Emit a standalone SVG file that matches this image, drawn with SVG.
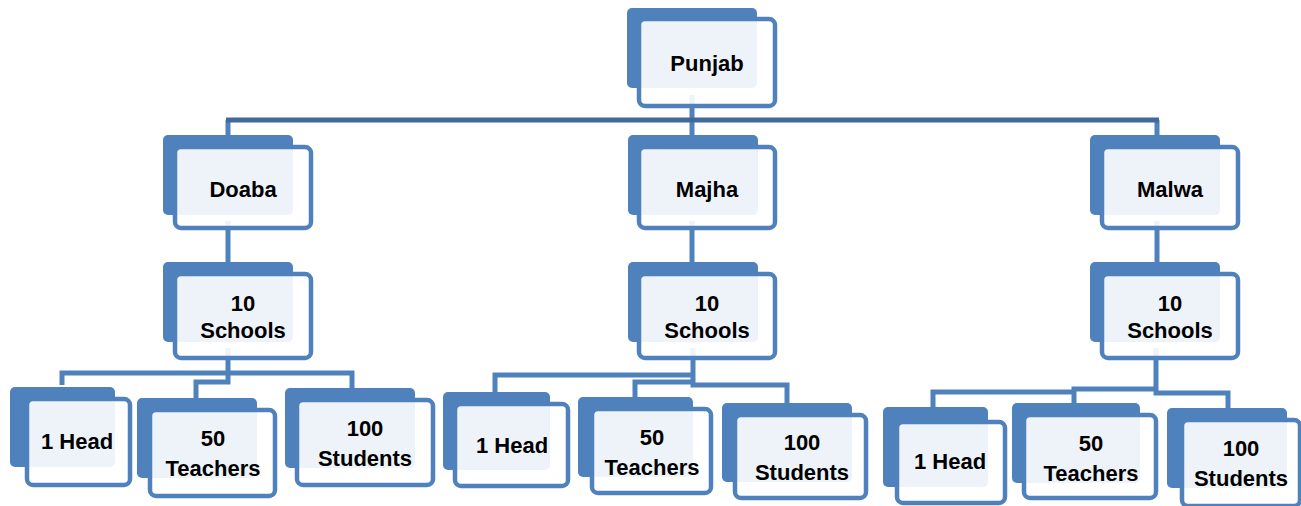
<svg xmlns="http://www.w3.org/2000/svg" width="1301" height="506" viewBox="0 0 1301 506">
<style>
.bk{fill:#4f81bd}
.fr{fill:#ffffff;fill-opacity:0.9;stroke:#4f81bd;stroke-width:4.5}
.t{font-family:"Liberation Sans",Arial,sans-serif;font-weight:bold;font-size:22px;fill:#000;text-anchor:middle}
.c{fill:none;stroke:#4f81bd;stroke-width:5}
.cd{fill:none;stroke:#41699c;stroke-width:5}
</style>
<rect width="1301" height="506" fill="#fff"/>
<g id="connectors">
<path class="c" d="M692 95V128M228 120V147M692 120V147M1157 120V147"/>
<path class="cd" d="M226 120H1159"/>
<path class="c" d="M228 221V274M692 221V274M1157 221V274"/>
<path class="c" d="M228 348V382H196V398M62 385V373H352V388"/>
<path class="c" d="M693 348V385H787V403M495 392V375H693M693 382H635V397"/>
<path class="c" d="M1156 348V393H1228V408M1156 389H1074V403M1074 392H933V407"/>
</g>
<g id="punjab"><rect class="bk" x="627" y="8" width="130" height="80" rx="5"/><rect class="fr" x="639" y="19" width="136" height="87" rx="6"/><text class="t" x="707" y="71">Punjab</text></g>
<g id="doaba"><rect class="bk" x="163" y="135" width="130" height="80" rx="5"/><rect class="fr" x="175" y="147" width="136" height="81" rx="6"/><text class="t" x="243" y="197">Doaba</text></g>
<g id="majha"><rect class="bk" x="628" y="135" width="130" height="80" rx="5"/><rect class="fr" x="639" y="147" width="136" height="81" rx="6"/><text class="t" x="707" y="197">Majha</text></g>
<g id="malwa"><rect class="bk" x="1090" y="135" width="130" height="80" rx="5"/><rect class="fr" x="1102" y="147" width="136" height="81" rx="6"/><text class="t" x="1170" y="197">Malwa</text></g>
<g id="doaba-schools"><rect class="bk" x="163" y="262" width="130" height="80" rx="5"/><rect class="fr" x="175" y="274" width="136" height="84" rx="6"/><text class="t" x="243" y="311">10</text><text class="t" x="243" y="338">Schools</text></g>
<g id="majha-schools"><rect class="bk" x="628" y="262" width="130" height="80" rx="5"/><rect class="fr" x="639" y="274" width="136" height="84" rx="6"/><text class="t" x="707" y="311">10</text><text class="t" x="707" y="338">Schools</text></g>
<g id="malwa-schools"><rect class="bk" x="1090" y="262" width="130" height="80" rx="5"/><rect class="fr" x="1102" y="274" width="136" height="84" rx="6"/><text class="t" x="1170" y="311">10</text><text class="t" x="1170" y="338">Schools</text></g>
<g id="doaba-head"><rect class="bk" x="10" y="387" width="105" height="80" rx="5"/><rect class="fr" x="27" y="399" width="103" height="86" rx="6"/><text class="t" x="77" y="449">1 Head</text></g>
<g id="doaba-teachers"><rect class="bk" x="137" y="398" width="120" height="80" rx="5"/><rect class="fr" x="150" y="410" width="125" height="86" rx="6"/><text class="t" x="213" y="446">50</text><text class="t" x="213" y="476">Teachers</text></g>
<g id="doaba-students"><rect class="bk" x="285" y="388" width="130" height="80" rx="5"/><rect class="fr" x="297" y="400" width="136" height="85" rx="6"/><text class="t" x="365" y="436">100</text><text class="t" x="365" y="466">Students</text></g>
<g id="majha-head"><rect class="bk" x="443" y="392" width="107" height="78" rx="5"/><rect class="fr" x="455" y="404" width="113" height="82" rx="6"/><text class="t" x="512" y="453">1 Head</text></g>
<g id="majha-teachers"><rect class="bk" x="578" y="397" width="115" height="80" rx="5"/><rect class="fr" x="592" y="409" width="119" height="84" rx="6"/><text class="t" x="652" y="445">50</text><text class="t" x="652" y="475">Teachers</text></g>
<g id="majha-students"><rect class="bk" x="722" y="403" width="130" height="79" rx="5"/><rect class="fr" x="735" y="415" width="131" height="83" rx="6"/><text class="t" x="802" y="450">100</text><text class="t" x="802" y="480">Students</text></g>
<g id="malwa-head"><rect class="bk" x="883" y="407" width="105" height="80" rx="5"/><rect class="fr" x="897" y="422" width="108" height="81" rx="6"/><text class="t" x="950" y="469">1 Head</text></g>
<g id="malwa-teachers"><rect class="bk" x="1012" y="403" width="128" height="80" rx="5"/><rect class="fr" x="1024" y="415" width="132" height="83" rx="6"/><text class="t" x="1091" y="451">50</text><text class="t" x="1091" y="481">Teachers</text></g>
<g id="malwa-students"><rect class="bk" x="1167" y="408" width="120" height="80" rx="5"/><rect class="fr" x="1182" y="420" width="118" height="86" rx="6"/><text class="t" x="1241" y="456">100</text><text class="t" x="1241" y="486">Students</text></g>
</svg>
